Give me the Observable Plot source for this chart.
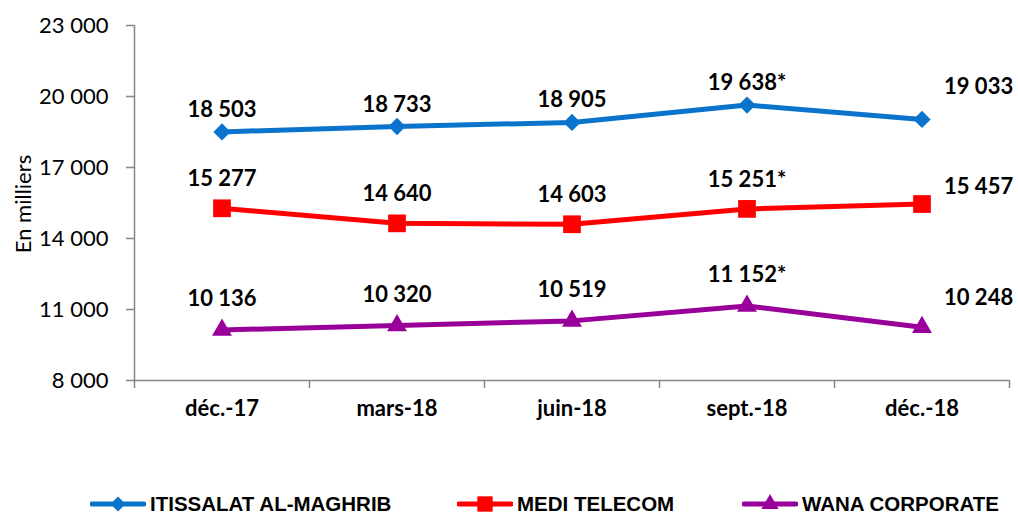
<!DOCTYPE html>
<html><head><meta charset="utf-8">
<script src="https://cdn.jsdelivr.net/npm/d3@7"></script>
<script src="https://cdn.jsdelivr.net/npm/@observablehq/plot@0.6"></script>
<style>
body{margin:0;background:#fff;}
#wrap{position:relative;width:1018px;height:514px;overflow:hidden;}
.legend{position:absolute;top:491px;left:0;width:1018px;height:26px;font-family:"Liberation Sans Narrow","Liberation Sans",sans-serif;font-weight:bold;font-size:20.5px;color:#000;}
.item{position:absolute;top:0;display:flex;align-items:center;height:26px;white-space:nowrap;}
.item svg{margin-right:4px;}
.ytitle{position:absolute;left:22px;top:204px;transform:translate(-50%,-50%) rotate(-90deg);font-family:Lato,sans-serif;font-size:22px;color:#000;white-space:nowrap;}
</style></head><body><div id="wrap"></div>
<script>
const categories = ["déc.-17", "mars-18", "juin-18", "sept.-18", "déc.-18"];
const seriesNames = ["ITISSALAT AL-MAGHRIB", "MEDI TELECOM", "WANA CORPORATE"];
const iamValues = [18503, 18733, 18905, 19638, 19033];
const mediValues = [15277, 14640, 14603, 15251, 15457];
const wanaValues = [10136, 10320, 10519, 11152, 10248];
const footnoteMarks = ["", "", "", "*", ""];
const yTicks = [8000, 11000, 14000, 17000, 20000, 23000];
const yTitle = "En milliers";

const colors = ["#0A74CC", "#FF0000", "#990099"];
const symbols = ["diamond2", "square", "triangle"];
const radii = [7.8, 10, 7.4];
const labelDy = [-22, -29, -31];
const lastDy = [-32, -17, -29];

const fmt = v => d3.format(",")(v).replace(/,/g, " ");
const allValues = [iamValues, mediValues, wanaValues];
const rows = allValues.flatMap((vals, s) => vals.map((v, i) => ({
  series: seriesNames[s], s, i, value: v, label: fmt(v) + footnoteMarks[i]
})));

const boundaryTicks = d3.range(categories.length + 1).map(i => i - 0.5);
const n = categories.length;

const marks = [
  Plot.ruleX([-0.5], {y1: yTicks[0], y2: yTicks[yTicks.length - 1], stroke: "#868686", strokeWidth: 1.5}),
  Plot.ruleY([yTicks[0]], {x1: -0.5, x2: n - 0.5, stroke: "#868686", strokeWidth: 1.5}),
  Plot.axisY({ticks: yTicks, tickFormat: fmt, tickSize: 8, tickPadding: 18, stroke: "#868686", strokeWidth: 1.5, fontSize: 22, fill: "#000", label: null}),
  Plot.axisX({ticks: boundaryTicks, tickFormat: () => "", tickSize: 8, stroke: "#868686", strokeWidth: 1.5, label: null}),
  Plot.axisX({ticks: d3.range(n), tickFormat: i => categories[i], tickSize: 0, tickPadding: 20, fontSize: 22, fontWeight: "bold", fill: "#000", label: null})
];

seriesNames.forEach((name, s) => {
  const data = rows.filter(d => d.s === s);
  marks.push(Plot.line(data, {x: "i", y: "value", stroke: colors[s], strokeWidth: 5}));
  marks.push(Plot.dot(data, {x: "i", y: "value", symbol: () => symbols[s], r: radii[s], fill: colors[s], stroke: "none"}));
  marks.push(Plot.text(data.filter(d => d.i < n - 1), {x: "i", y: "value", text: "label", dy: labelDy[s], fontSize: 22, fontWeight: "bold", fill: "#000"}));
  marks.push(Plot.text(data.filter(d => d.i === n - 1), {x: "i", y: "value", text: "label", dx: 22, dy: lastDy[s], textAnchor: "start", fontSize: 22, fontWeight: "bold", fill: "#000"}));
});

const chart = Plot.plot({
  width: 1018,
  height: 470,
  marginLeft: 134,
  marginRight: 9,
  marginTop: 25,
  marginBottom: 90,
  style: {fontFamily: "Lato, sans-serif", background: "#fff", overflow: "visible"},
  x: {domain: [-0.5, n - 0.5], axis: null},
  y: {domain: [yTicks[0], yTicks[yTicks.length - 1]], axis: null},
  symbol: {type: "identity"},
  marks
});
const wrap = document.getElementById("wrap");
wrap.appendChild(chart);

const title = document.createElement("div");
title.className = "ytitle";
title.textContent = yTitle;
wrap.appendChild(title);

// legend
const legend = document.createElement("div");
legend.className = "legend";
const lefts = [90, 457, 742];
seriesNames.forEach((name, s) => {
  const item = document.createElement("div");
  item.className = "item";
  item.style.left = lefts[s] + "px";
  const sym = d3.symbol().type([d3.symbolDiamond2, d3.symbolSquare, d3.symbolTriangle][s]).size(Math.PI * radii[s] * radii[s] * 0.75);
  item.innerHTML = `<svg width="56" height="26"><line x1="2" x2="54" y1="13" y2="13" stroke="${colors[s]}" stroke-width="5" stroke-linecap="round"/><path transform="translate(28,13)" d="${sym()}" fill="${colors[s]}"/></svg><span>${name}</span>`;
  legend.appendChild(item);
});
wrap.appendChild(legend);
</script></body></html>
